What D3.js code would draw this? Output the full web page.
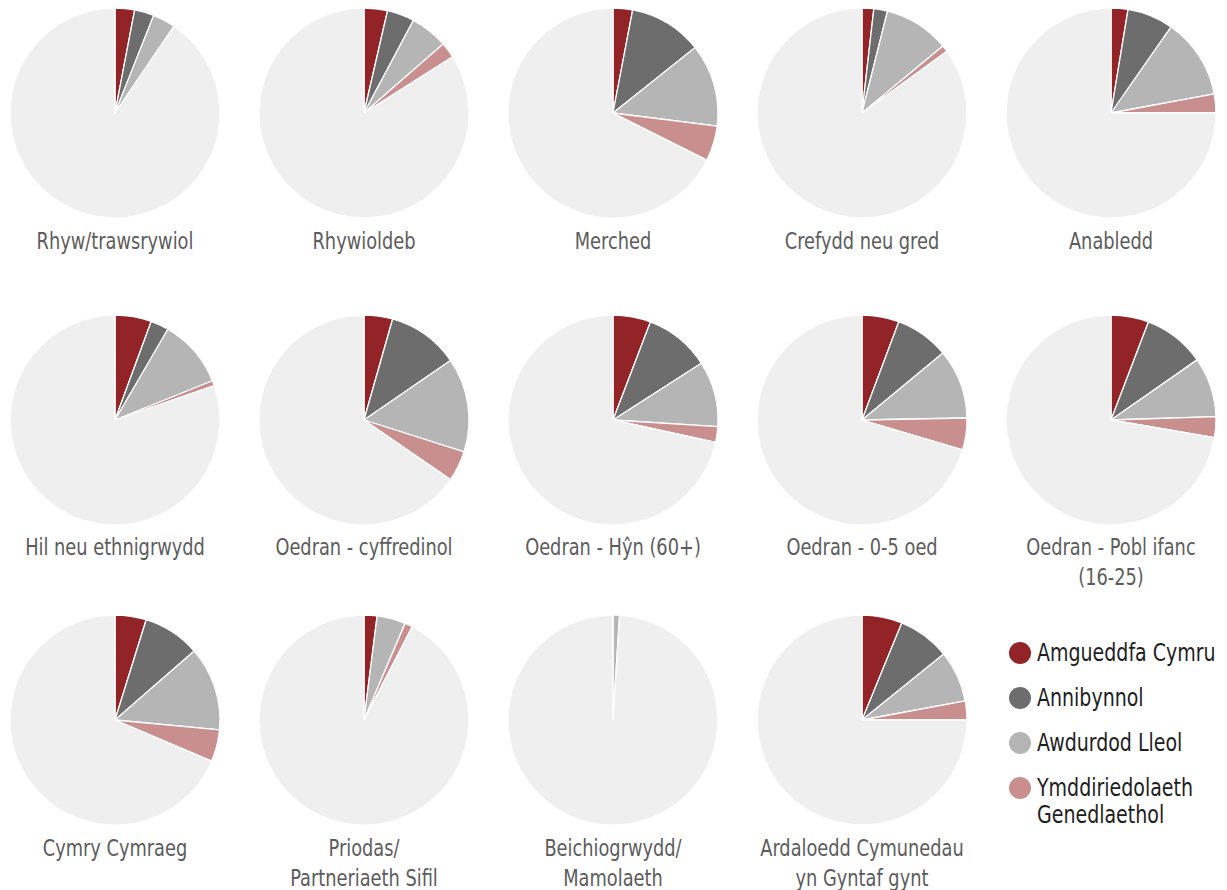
<!DOCTYPE html>
<html>
<head>
<meta charset="utf-8">
<script src="https://cdn.jsdelivr.net/npm/d3@7"></script>
<style>
  html, body { margin: 0; padding: 0; background: #ffffff; }
  svg { display: block; }
  .lbl { font-family: "DejaVu Sans Condensed", "Liberation Sans Narrow", "Roboto", sans-serif; fill: #5c5c5c; }
  .leg { font-family: "DejaVu Sans Condensed", "Liberation Sans Narrow", "Roboto", sans-serif; fill: #1e1e1e; }
</style>
</head>
<body>
<svg id="chart" width="1227" height="890"></svg>
<script>
// ---- data ----
const categories = [
  ["Rhyw/trawsrywiol"],
  ["Rhywioldeb"],
  ["Merched"],
  ["Crefydd neu gred"],
  ["Anabledd"],
  ["Hil neu ethnigrwydd"],
  ["Oedran - cyffredinol"],
  ["Oedran - Hŷn (60+)"],
  ["Oedran - 0-5 oed"],
  ["Oedran - Pobl ifanc", "(16-25)"],
  ["Cymry Cymraeg"],
  ["Priodas/", "Partneriaeth Sifil"],
  ["Beichiogrwydd/", "Mamolaeth"],
  ["Ardaloedd Cymunedau", "yn Gyntaf gynt"]
];
const seriesNames = ["Amgueddfa Cymru", "Annibynnol", "Awdurdod Lleol", "Ymddiriedolaeth Genedlaethol"];
const amgueddfa       = [3.0, 3.6, 3.0, 1.8, 2.6, 5.6, 4.4, 5.8, 5.7, 5.8, 4.8, 2.0, 0.0, 6.2];
const annibynnol      = [3.0, 4.2, 11.3, 2.1, 7.1, 2.8, 11.0, 10.1, 8.3, 9.5, 8.8, 0.0, 0.0, 8.0];
const awdurdodLleol   = [3.5, 5.8, 12.7, 10.1, 12.4, 10.5, 14.5, 10.1, 10.7, 9.2, 12.9, 4.4, 1.0, 7.9];
const ymddiriedolaeth = [0.0, 2.4, 5.4, 1.0, 2.9, 0.8, 4.7, 2.4, 4.9, 3.2, 4.9, 1.2, 0.0, 2.9];
const total = 100;

// ---- style ----
const colors = ["#922427", "#6d6d6d", "#b5b5b5", "#c98f8f", "#efefef"];
const R = 105;

const svg = d3.select("#chart");
const cx = d3.scalePoint().domain(d3.range(5)).range([115, 1111]);
const cy = d3.scaleOrdinal().domain([0, 1, 2]).range([113, 420, 720]);
const labelY = d3.scaleOrdinal().domain([0, 1, 2]).range([249, 555, 856]);

const pie = d3.pie().sort(null).value(d => d.v);
const arc = d3.arc().innerRadius(0).outerRadius(R);

categories.forEach((lab, i) => {
  const col = i % 5, row = Math.floor(i / 5);
  const vals = [amgueddfa[i], annibynnol[i], awdurdodLleol[i], ymddiriedolaeth[i]];
  const rest = total - d3.sum(vals);
  const data = vals.map((v, k) => ({ v, k })).concat([{ v: rest, k: 4 }]);
  const g = svg.append("g").attr("transform", `translate(${cx(col)},${cy(row)})`);
  g.selectAll("path").data(pie(data)).join("path")
    .attr("d", arc)
    .attr("fill", d => colors[d.data.k])
    .attr("stroke", "#ffffff")
    .attr("stroke-width", d => d.data.v > 0 ? 1.3 : 0)
    .attr("stroke-linejoin", "round");
  const t = svg.append("text").attr("class", "lbl")
    .attr("transform", `translate(${cx(col)},${labelY(row)}) scale(0.86,1)`)
    .attr("text-anchor", "middle").attr("font-size", 23);
  lab.forEach((line, j) => {
    t.append("tspan").attr("x", 0).attr("dy", j === 0 ? 0 : 30).text(line);
  });
});

// ---- legend ----
const legY = d3.scalePoint().domain(d3.range(4)).range([653, 788]);
const legend = svg.append("g");
seriesNames.forEach((name, k) => {
  legend.append("circle").attr("cx", 1020).attr("cy", legY(k)).attr("r", 11).attr("fill", colors[k]);
  const words = k === 3 ? ["Ymddiriedolaeth", "Genedlaethol"] : [name];
  const t = legend.append("text").attr("class", "leg")
    .attr("transform", `translate(1037,${legY(k) + 8}) scale(0.88,1)`)
    .attr("font-size", 24);
  words.forEach((w, j) => t.append("tspan").attr("x", 0).attr("dy", j === 0 ? 0 : 27).text(w));
});
</script>
</body>
</html>
